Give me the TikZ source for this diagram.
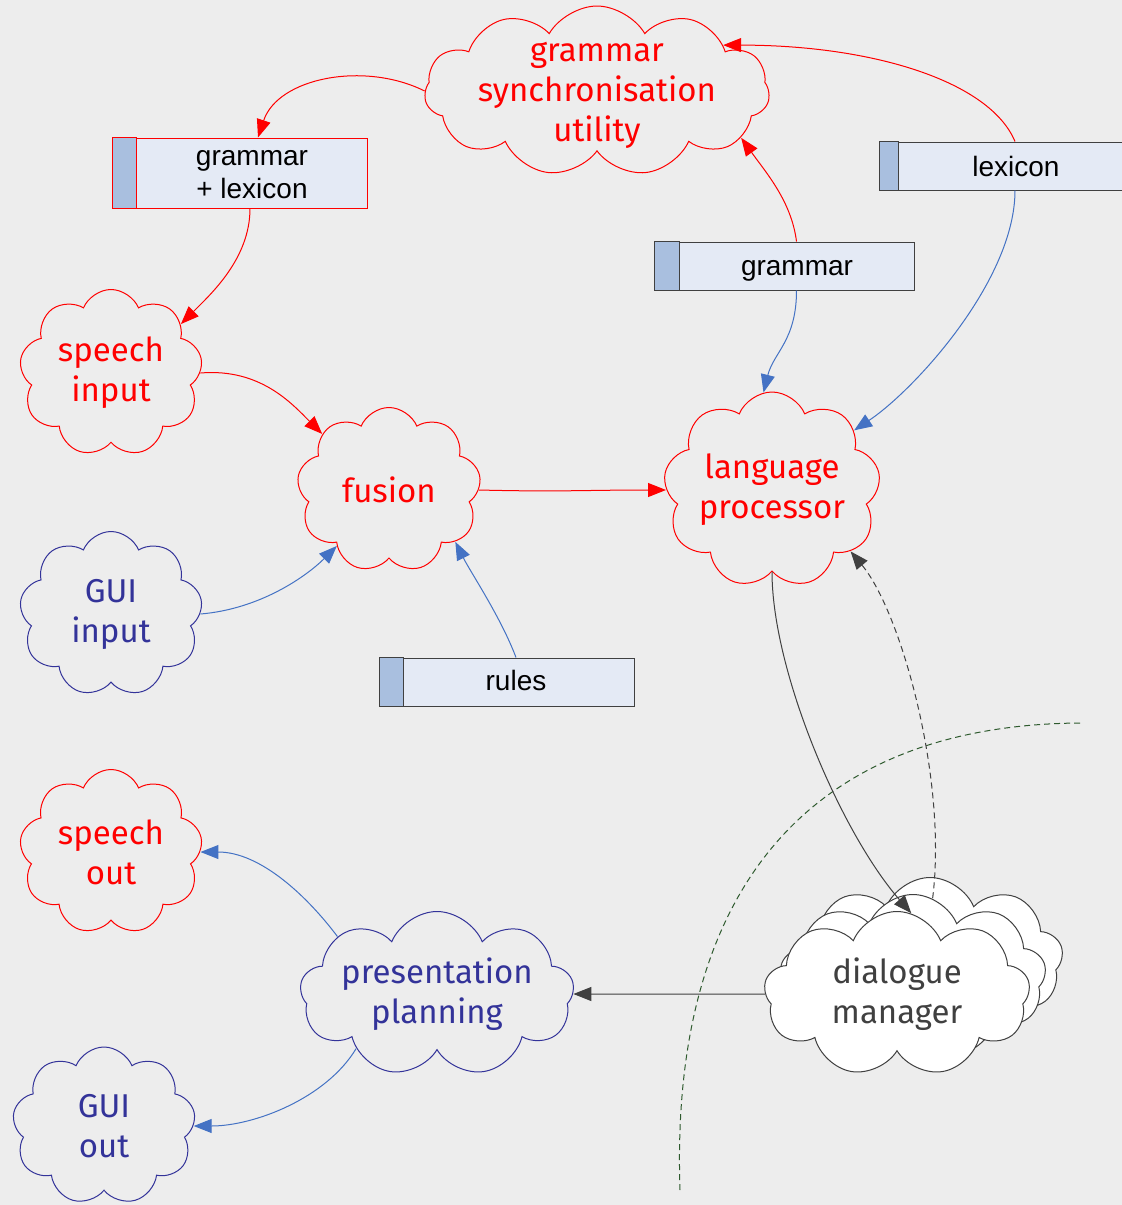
\documentclass[tikz,border=0pt]{standalone}
\usepackage{fontspec}
\setmainfont{Liberation Sans}
\newfontfamily\cloudfont{Fira Sans}
\usetikzlibrary{shapes.symbols,arrows.meta,calc}
\definecolor{bg}{HTML}{EDEDED}
\definecolor{cred}{HTML}{FF0000}
\definecolor{navy}{HTML}{333399}
\definecolor{cblue}{HTML}{4472C4}
\definecolor{dgray}{HTML}{404040}
\definecolor{boxfill}{HTML}{E4EAF5}
\definecolor{stripe}{HTML}{A9BFDF}
\definecolor{dgreen}{HTML}{2E5A2E}
\tikzset{
  cl/.style={cloud, cloud puffs=9, cloud puff arc=135, draw, inner sep=0pt, line width=0.5pt},
  cltext/.style={font=\cloudfont\fontsize{16.5}{20}\selectfont, align=center},
  boxshape/.style={draw=dgray, fill=boxfill, line width=0.5pt, inner sep=0pt},
  boxtext/.style={font=\fontsize{14}{16.5}\selectfont, align=center, text=black},
  arr/.style={line width=0.5pt, -{Triangle[length=9pt,width=7pt]}},
}
\begin{document}
\begin{tikzpicture}[x=0.5pt,y=-0.5pt]
\fill[bg] (0,0) rectangle (1122,1205);
\useasboundingbox (0,0) rectangle (1122,1205);

% green dashed boundary
\coordinate (g1) at (1080,723);
\coordinate (g2) at (680,1190);
\draw[dgreen, line width=0.5pt, dash pattern=on 3pt off 2pt] (g1) .. controls +(-280,2) and +(-10,-290) .. (g2);

% boxes
\node[boxshape, draw=cred, minimum width=127pt, minimum height=35pt] (gl) at (240,173) {};
\draw[draw=cred, fill=stripe, line width=0.5pt] (gl.north west) rectangle ([xshift=12pt]gl.south west);
\node[boxtext] at ([xshift=6pt,yshift=-1pt]gl.center) {grammar\\+ lexicon};

\node[boxshape, minimum width=135pt, minimum height=24pt] (lex) at (1015,166) {};
\draw[draw=dgray, fill=stripe, line width=0.5pt] (lex.north west) rectangle ([xshift=9.5pt]lex.south west);
\node[boxtext] at (1016,166) {lexicon};

\node[boxshape, minimum width=129.5pt, minimum height=24pt] (gr) at (784.5,266) {};
\draw[draw=dgray, fill=stripe, line width=0.5pt] (gr.north west) rectangle ([xshift=12.5pt]gr.south west);
\node[boxtext] at ([xshift=6.25pt,yshift=-2.5pt]gr.center) {grammar};

\node[boxshape, minimum width=127pt, minimum height=24pt] (ru) at (507,682) {};
\draw[draw=dgray, fill=stripe, line width=0.5pt] (ru.north west) rectangle ([xshift=12pt]ru.south west);
\node[boxtext] at ([xshift=4.5pt,yshift=1pt]ru.center) {rules};

% clouds
\node[cl, cloud puffs=11, cloud puff arc=120, draw=cred, minimum width=172.5pt, minimum height=85pt] (gsu) at (597,91) {};
\node[cltext, text=cred] at ([yshift=-2pt]gsu.center) {grammar\\synchronisation\\utility};

\node[cl, draw=cred, minimum width=91.5pt, minimum height=83.5pt] (si) at (111,373) {};
\node[cltext, text=cred] at (si.center) {speech\\input};

\node[cl, draw=cred, minimum width=92pt, minimum height=82.5pt] (fu) at (389,490) {};
\node[cltext, text=cred] at (fu.center) {fusion};

\node[cl, draw=navy, minimum width=91.5pt, minimum height=82.5pt] (gi) at (111,614) {};
\node[cltext, text=navy] at (gi.center) {GUI\\input};

\node[cl, draw=cred, minimum width=108.5pt, minimum height=98pt] (lp) at (772,490) {};
\node[cltext, text=cred] at (lp.center) {language\\processor};

\node[cl, draw=cred, minimum width=91.5pt, minimum height=82.5pt] (so) at (111,852) {};
\node[cltext, text=cred] at (so.center) {speech\\out};

\node[cl, draw=navy, minimum width=137pt, minimum height=82.5pt] (pp) at (437,994) {};
\node[cltext, text=navy] at (pp.center) {presentation\\planning};

\node[cl, draw=navy, minimum width=91.5pt, minimum height=79pt] (go) at (104,1126) {};
\node[cltext, text=navy] at (go.center) {GUI\\out};

\node[cl, draw=dgray, fill=white, minimum width=133pt, minimum height=82.5pt] (dm3) at (930,960) {};
\node[cl, draw=dgray, fill=white, minimum width=133pt, minimum height=82.5pt] (dm2) at (913,977) {};
\node[cl, draw=dgray, fill=white, minimum width=133pt, minimum height=82.5pt] (dm) at (897,994) {};
\node[cltext, text=dgray] at (dm.center) {dialogue\\manager};

% connectors
\draw[arr, cred] (gsu.west) .. controls +(-60,-30) and +(20,-60) .. ([xshift=9pt]gl.north);
\draw[arr, cred] (lex.north) .. controls +(-25,-60) and +(150,0) .. (gsu.20);
\draw[arr, cred] ([xshift=6pt]gr.north) .. controls +(-5,-40) and +(25,35) .. (gsu.-18);
\draw[arr, cred] ([xshift=5pt]gl.south) .. controls +(0,50) and +(30,-30) .. (si.35);
\draw[arr, cred] (si.0) .. controls +(60,-5) and +(-30,-30) .. (fu.140);
\draw[arr, cred] (fu.0) .. controls +(80,2) and +(-80,0) .. (lp.180);
\draw[arr, cblue] (gi.0) .. controls +(60,-5) and +(-30,30) .. (fu.227);
\draw[arr, cblue] ([xshift=4.5pt]ru.north) .. controls +(-15,-40) and +(15,30) .. (fu.-38);
\draw[arr, cblue] ([xshift=6pt]gr.south) .. controls +(0,50) and +(10,-40) .. (lp.95);
\draw[arr, cblue] (lex.south) .. controls +(0,90) and +(60,-40) .. (lp.36);
\draw[arr, dgray] (lp.270) .. controls +(0,100) and +(-70,-80) .. (dm.80);
\draw[arr, dgray, dash pattern=on 3pt off 2pt] (dm2.76) .. controls +(15,-120) and +(50,60) .. (lp.-38);
\draw[arr, dgray] (dm.180) -- (pp.0);
\draw[arr, cblue] (pp.150) .. controls +(-30,-40) and +(60,0) .. (so.0);
\draw[arr, cblue] (pp.214) .. controls +(-30,50) and +(60,0) .. (go.0);
\end{tikzpicture}
\end{document}
